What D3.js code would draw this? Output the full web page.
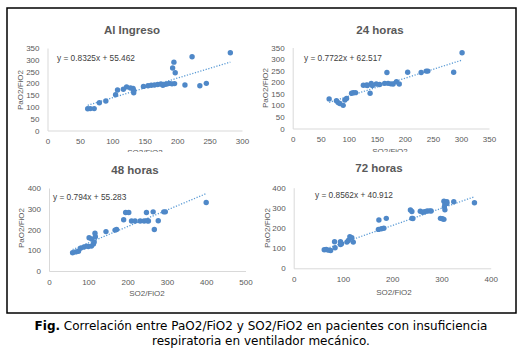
<!DOCTYPE html>
<html>
<head>
<meta charset="utf-8">
<script src="https://cdn.jsdelivr.net/npm/d3@7"></script>
<style>
  body { margin: 0; background: #fff; }
  svg { display: block; }
  .tick text { fill: #595959; font-family: "Liberation Sans", Arial, sans-serif; font-size: 8px; }
</style>
</head>
<body>
<svg id="chart" width="523" height="354"></svg>
<script>
// data: [SO2/FiO2, PaO2/FiO2]
var ingresoPts = [[62,92],[66,93],[72,93],[80,118],[90,125],[105,152],[108,172],[117,175],[122,185],
  [128,180],[132,178],[133,170],[133,160],[148,187],[155,190],[160,192],[165,193],[170,195],[175,197],
  [178,192],[182,196],[185,198],[188,200],[192,198],[196,199],[193,265],[195,290],[197,245],[212,193],
  [223,313],[235,190],[245,200],[282,330]];
var horas24Pts = [[65,128],[78,120],[81,112],[84,108],[90,100],[93,123],[96,130],[105,152],[108,155],
  [112,155],[126,187],[132,188],[133,186],[138,152],[140,195],[142,186],[149,192],[155,190],[164,195],
  [168,242],[170,195],[175,193],[179,192],[185,202],[190,192],[205,243],[229,242],[238,248],[241,248],
  [287,243],[302,327]];
var horas48Pts = [[60,88],[68,92],[75,95],[80,110],[88,115],[95,120],[100,118],[108,120],[102,160],
  [108,155],[113,130],[115,140],[118,165],[117,182],[145,190],[168,197],[172,200],[190,247],[195,282],
  [203,282],[210,241],[219,241],[232,241],[242,241],[250,242],[253,241],[248,282],[265,285],[268,200],
  [278,242],[292,285],[296,285],[400,330]];
var horas72Pts = [[62,92],[66,93],[71,90],[75,88],[83,132],[84,102],[95,132],[97,122],[95,118],
  [108,130],[111,138],[114,157],[118,152],[121,130],[172,193],[178,196],[183,199],[173,240],[188,248],
  [237,289],[240,282],[240,248],[242,247],[257,283],[262,278],[266,281],[271,284],[276,285],[279,284],
  [298,248],[302,246],[305,243],[305,333],[307,318],[306,305],[307,290],[311,330],[311,322],[325,330],
  [367,325]];

var panelTitles = ['Al Ingreso', '24 horas', '48 horas', '72 horas'];
var slopes = [0.8325, 0.7722, 0.794, 0.8562];
var intercepts = [55.462, 62.517, 55.283, 40.912];
var xMax = [300, 350, 500, 400];
var yMax = [350, 350, 400, 400];
var xTicks = [[0,50,100,150,200,250,300], [0,50,100,150,200,250,300,350], [0,100,200,300,400,500], [0,100,200,300,400]];
var yTicks = [[0,50,100,150,200,250,300,350], [0,50,100,150,200,250,300,350], [0,100,200,300,400], [0,100,200,300,400]];

var svg = d3.select('#chart');
var blue = '#4f88c8';

// clip for the top charts (their x titles are cut by the lower charts)
svg.append('clipPath').attr('id', 'topClip')
  .append('rect').attr('x', 0).attr('y', 0).attr('width', 523).attr('height', 152);

// positions of each chart on the page
var layout = [
  { x0: 47.5, x1: 242, yb: 130.5, yt: 48, title: [132, 30], eq: [57, 58], yt2: [20, 90], xt: [145, 152], clip: true },
  { x0: 292.7, x1: 489, yb: 128.5, yt: 47.5, title: [380, 30], eq: [304, 58], yt2: [265, 88], xt: [390, 151], clip: true },
  { x0: 49, x1: 245.5, yb: 271, yt: 188, title: [135, 170], eq: [53, 197], yt2: [21, 228], xt: [147, 293], clip: false },
  { x0: 293.7, x1: 490.7, yb: 268.3, yt: 187.7, title: [379, 168], eq: [315, 195], yt2: [267, 228], xt: [394, 292], clip: false }
];

var allPts = [ingresoPts, horas24Pts, horas48Pts, horas72Pts];

allPts.forEach(function (pts, i) {
  var L = layout[i];
  var g = svg.append('g');

  var x = d3.scaleLinear().domain([0, xMax[i]]).range([L.x0, L.x1]);
  var y = d3.scaleLinear().domain([0, yMax[i]]).range([L.yb, L.yt]);

  // title
  g.append('text')
    .attr('x', L.title[0]).attr('y', L.title[1])
    .attr('text-anchor', 'middle').attr('dominant-baseline', 'central')
    .style('font-family', '"Liberation Sans", Arial, sans-serif')
    .style('font-weight', 'bold').style('font-size', '11.5px')
    .style('fill', '#595959')
    .text(panelTitles[i]);

  // axes
  var xAxis = g.append('g')
    .attr('transform', 'translate(0,' + L.yb + ')')
    .call(d3.axisBottom(x).tickValues(xTicks[i]).tickSize(0).tickPadding(8).tickFormat(d3.format('d')));
  var yAxis = g.append('g')
    .attr('transform', 'translate(' + L.x0 + ',0)')
    .call(d3.axisLeft(y).tickValues(yTicks[i]).tickSize(0).tickPadding(8).tickFormat(d3.format('d')));
  xAxis.select('.domain').attr('stroke', '#d9d9d9');
  yAxis.select('.domain').attr('stroke', '#d9d9d9');

  // axis titles
  g.append('text')
    .attr('transform', 'translate(' + L.yt2[0] + ',' + L.yt2[1] + ') rotate(-90)')
    .attr('text-anchor', 'middle').attr('dominant-baseline', 'central')
    .style('font-family', '"Liberation Sans", Arial, sans-serif')
    .style('font-size', '8px').style('fill', '#595959')
    .text('PaO2/FiO2');
  g.append('text')
    .attr('x', L.xt[0]).attr('y', L.xt[1])
    .attr('text-anchor', 'middle').attr('dominant-baseline', 'central')
    .attr('clip-path', L.clip ? 'url(#topClip)' : null)
    .style('font-family', '"Liberation Sans", Arial, sans-serif')
    .style('font-size', '8px').style('fill', '#595959')
    .text('SO2/FiO2');

  // trend line over the data range
  var ext = d3.extent(pts, function (d) { return d[0]; });
  g.append('line')
    .attr('x1', x(ext[0])).attr('y1', y(slopes[i] * ext[0] + intercepts[i]))
    .attr('x2', x(ext[1])).attr('y2', y(slopes[i] * ext[1] + intercepts[i]))
    .attr('stroke', '#5b9bd5').attr('stroke-width', 1.3)
    .attr('stroke-dasharray', '1.2,1.6');

  // points
  g.selectAll('circle')
    .data(pts)
    .enter()
    .append('circle')
    .attr('cx', function (d) { return x(d[0]); })
    .attr('cy', function (d) { return y(d[1]); })
    .attr('r', 2.7)
    .attr('fill', blue);

  // equation
  g.append('text')
    .attr('x', L.eq[0]).attr('y', L.eq[1])
    .attr('dominant-baseline', 'central')
    .style('font-family', '"Liberation Sans", Arial, sans-serif')
    .style('font-size', '8.3px').style('fill', '#404040')
    .text('y = ' + slopes[i] + 'x + ' + intercepts[i]);
});

// outer frame
svg.append('rect')
  .attr('x', 7).attr('y', 8).attr('width', 509).attr('height', 305)
  .attr('fill', 'none').attr('stroke', '#000').attr('stroke-width', 1.5);

// caption
var caption = svg.append('text')
  .attr('text-anchor', 'middle')
  .style('font-family', '"DejaVu Sans", Verdana, sans-serif')
  .style('font-size', '12px').style('fill', '#000');
var line1 = caption.append('tspan').attr('x', 261).attr('y', 330);
line1.append('tspan').style('font-weight', 'bold').text('Fig.');
line1.append('tspan').text(' Correlación entre PaO2/FiO2 y SO2/FiO2 en pacientes con insuficiencia');
caption.append('tspan').attr('x', 261).attr('y', 345).text('respiratoria en ventilador mecánico.');
</script>
</body>
</html>
